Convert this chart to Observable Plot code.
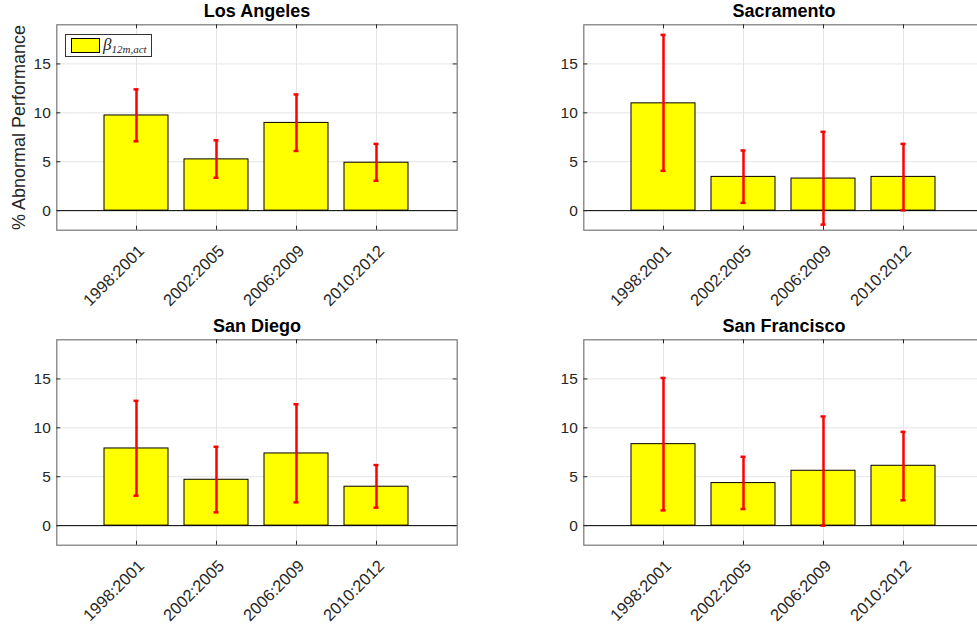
<!DOCTYPE html>
<html>
<head>
<meta charset="utf-8">
<script src="https://cdn.jsdelivr.net/npm/d3@7"></script>
<script src="https://cdn.jsdelivr.net/npm/@observablehq/plot@0.6"></script>
<style>
  html, body { margin: 0; padding: 0; background: #fff; }
  #wrap { position: relative; width: 977px; height: 626px; overflow: hidden; background: #fff; font-family: "Liberation Sans", Arial, sans-serif; }
  .panel { position: absolute; }
  .legend { position: absolute; left: 65px; top: 34px; width: 87px; height: 23px; border: 1px solid #333; background: #fff; box-sizing: border-box; }
  .legend .sw { position: absolute; left: 5px; top: 3px; width: 29px; height: 15px; background: #ffff00; border: 1px solid #000; box-sizing: border-box; }
  .legend .lab { position: absolute; left: 37px; top: 0px; font-family: "Liberation Serif", "DejaVu Serif", serif; font-style: italic; font-size: 17px; line-height: 20px; color: #262626; white-space: nowrap; }
  .legend .lab sub { font-size: 11px; vertical-align: -3px; }
</style>
</head>
<body>
<div id="wrap"></div>
<script>
const bins = ["1998:2001", "2002:2005", "2006:2009", "2010:2012"];
const yTicks = [0, 5, 10, 15];
const cities = ["Los Angeles", "Sacramento", "San Diego", "San Francisco"];

// bar heights (% abnormal performance) and error-bar limits
const laValues = [9.73, 5.24, 8.97, 4.90];
const laLow    = [7.09, 3.36, 6.10, 3.05];
const laHigh   = [12.40, 7.19, 11.88, 6.82];

const sacValues = [10.97, 3.45, 3.28, 3.45];
const sacLow    = [4.07, 0.79, -1.43, 0.03];
const sacHigh   = [17.97, 6.15, 8.06, 6.83];

const sdValues = [7.89, 4.69, 7.38, 3.98];
const sdLow    = [3.06, 1.36, 2.38, 1.84];
const sdHigh   = [12.76, 8.06, 12.41, 6.19];

const sfValues = [8.33, 4.35, 5.61, 6.12];
const sfLow    = [1.56, 1.70, 0.00, 2.59];
const sfHigh   = [15.10, 7.04, 11.16, 9.59];

const yLabel = "% Abnormal Performance";

const W = 470, H = 310, ML = 56.3, MR = 13.3, MT = 24.3, MB = 80.3;
const FW = W - ML - MR, FH = H - MT - MB;
const axisColor = "#262626";
const gridColor = "#e4e4e4";

function panel(city, values, lo, hi, left, top, withYLabel) {
  const rows = bins.map((b, i) => ({bin: b, value: values[i], lo: lo[i], hi: hi[i]}));
  const marks = [
    Plot.ruleY(yTicks, {stroke: gridColor}),
    Plot.ruleX(bins, {stroke: gridColor}),
    Plot.barY(rows, {x: "bin", y: "value", fill: "#ffff00", stroke: "#000", strokeWidth: 1}),
    Plot.ruleY([0], {stroke: "#000", strokeWidth: 1}),
    Plot.ruleX(rows, {x: "bin", y1: "lo", y2: "hi", stroke: "#ff0000", strokeWidth: 2.5}),
    Plot.tickY(rows, {x: "bin", y: "lo", stroke: "#ff0000", strokeWidth: 2.5, insetLeft: 29.5, insetRight: 29.5}),
    Plot.tickY(rows, {x: "bin", y: "hi", stroke: "#ff0000", strokeWidth: 2.5, insetLeft: 29.5, insetRight: 29.5}),
    Plot.frame({stroke: "#777", strokeWidth: 1.2}),
    Plot.tickY(yTicks, {stroke: axisColor, insetRight: FW - 4}),
    Plot.tickY(yTicks, {stroke: axisColor, insetLeft: FW - 4}),
    Plot.tickX(bins, {stroke: axisColor, insetBottom: FH - 4}),
    Plot.tickX(bins, {stroke: axisColor, insetTop: FH - 4}),
    Plot.text(yTicks, {y: d => d, text: d => String(d), frameAnchor: "left", textAnchor: "end", dx: -6, fontSize: 15.5, fill: axisColor}),
    Plot.text(bins, {x: d => d, text: d => d, frameAnchor: "bottom", rotate: -45, textAnchor: "end", lineAnchor: "middle", dx: 5, dy: 18, fontSize: 16.5, fill: axisColor}),
    Plot.text([city], {text: d => d, frameAnchor: "top", lineAnchor: "bottom", dy: -8, fontSize: 18, fontWeight: "bold", fill: "#000"})
  ];
  if (withYLabel) {
    marks.push(Plot.text([yLabel], {text: d => d, frameAnchor: "left", rotate: -90, textAnchor: "middle", lineAnchor: "middle", dx: -38, fontSize: 18, fill: axisColor}));
  }
  const svg = Plot.plot({
    width: W, height: H,
    marginLeft: ML, marginRight: MR, marginTop: MT, marginBottom: MB,
    x: {type: "band", domain: bins, paddingInner: 0.2, paddingOuter: 0.6, axis: null},
    y: {domain: [-2, 19], axis: null},
    style: {fontFamily: "Liberation Sans, Arial, sans-serif", background: "transparent", overflow: "visible"},
    marks
  });
  svg.classList.add("panel");
  svg.style.left = left + "px";
  svg.style.top = top + "px";
  document.getElementById("wrap").appendChild(svg);
}

panel(cities[0], laValues, laLow, laHigh, 0, 0, true);
panel(cities[1], sacValues, sacLow, sacHigh, 527, 0, false);
panel(cities[2], sdValues, sdLow, sdHigh, 0, 315, false);
panel(cities[3], sfValues, sfLow, sfHigh, 527, 315, false);

// legend (top-left panel)
const leg = document.createElement("div");
leg.className = "legend";
leg.innerHTML = '<div class="sw"></div><div class="lab">β<sub>12m,act</sub></div>';
document.getElementById("wrap").appendChild(leg);
</script>
</body>
</html>
